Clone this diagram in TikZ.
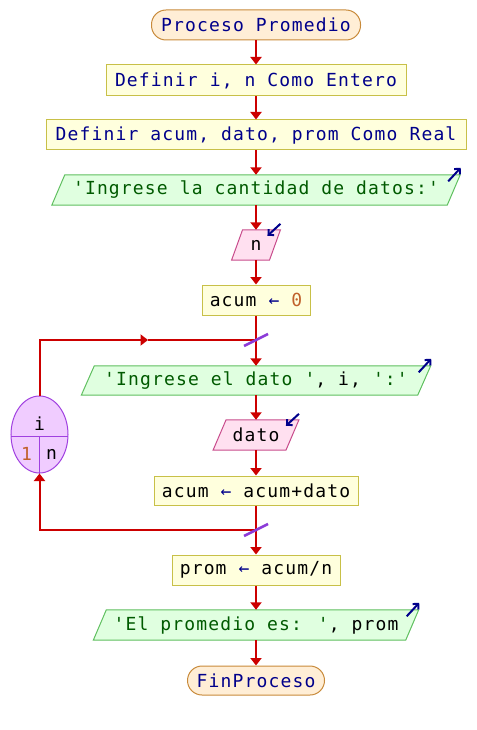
\documentclass[tikz,border=0pt]{standalone}
\usepackage{fontspec}
\newfontfamily\psefont[LetterSpace=6.4,Ligatures=TeXOff]{DejaVu Sans Mono}
\usetikzlibrary{arrows.meta,shapes.geometric,backgrounds}

\definecolor{navy}{HTML}{00008B}
\definecolor{outgreen}{HTML}{005A00}
\definecolor{numorange}{HTML}{C0602A}
\definecolor{flowred}{HTML}{CC0000}
\definecolor{termfill}{HTML}{FFEED6}
\definecolor{termdraw}{HTML}{C88A3A}
\definecolor{procfill}{HTML}{FFFFDD}
\definecolor{procdraw}{HTML}{C8C048}
\definecolor{outfill}{HTML}{E0FFE0}
\definecolor{outdraw}{HTML}{60C060}
\definecolor{infill}{HTML}{FFE0F0}
\definecolor{indraw}{HTML}{C84C8C}
\definecolor{loopfill}{HTML}{F0CCFF}
\definecolor{loopdraw}{HTML}{A040E0}
\definecolor{loopmarkc}{HTML}{8C3CD8}

% parallelogram drawn behind a plain node: name, slant offset, colours
\newcommand\ioshape[3]{%
  \begin{scope}[on background layer]
    \filldraw[#3,line width=1pt]
      ([xshift=#2]#1.north west) -- ([xshift=#2]#1.north east) --
      ([xshift=-#2]#1.south east) -- ([xshift=-#2]#1.south west) -- cycle;
  \end{scope}}

\begin{document}
\begin{tikzpicture}[x=1pt,y=-1pt,
  font=\psefont\fontsize{18}{20}\selectfont,
  terminal/.style={rectangle, rounded corners=14.5pt, draw=termdraw, fill=termfill,
    line width=1pt, text=navy, inner sep=0pt, minimum height=30pt},
  procbox/.style={rectangle, draw=procdraw, fill=procfill, line width=1pt,
    inner sep=0pt, minimum height=30pt},
  iobox/.style={rectangle, inner sep=0pt, minimum height=30pt},
  flowline/.style={draw=flowred, line width=2pt},
  flow/.style={flowline, -{Triangle[width=11pt,length=7.5pt]}},
  loopmark/.style={draw=loopmarkc, line width=2.5pt},
  loopline/.style={draw=loopdraw, line width=1pt},
  ioicon/.style={draw=navy, line width=2pt, -{Straight Barb[length=4pt,width=8pt]}}]

\useasboundingbox (0,0) rectangle (476,730);

% main column of steps
\node[terminal, minimum width=209pt] (start) at (256,25) {Proceso Promedio};
\node[procbox, text=navy, minimum width=300pt, minimum height=31pt] (d1) at (256,80.5) {Definir i, n Como Entero};
\node[procbox, text=navy, minimum width=420pt] (d2) at (256,135) {Definir acum, dato, prom Como Real};
\node[iobox, text=outgreen, minimum width=395pt] (o1) at (256,190) {'Ingrese la cantidad de datos:'};
\node[iobox, minimum width=37.5pt] (i1) at (256,245) {n};
\node[procbox, minimum width=108pt] (a0) at (256,300) {acum \textcolor{navy}{←} \textcolor{numorange}{0}};
\coordinate (j1) at (256,340);
\node[iobox, minimum width=336pt, minimum height=29pt] (o2) at (256,380.5) {\textcolor{outgreen}{'Ingrese el dato '}, i, \textcolor{outgreen}{':'}};
\node[iobox, minimum width=72.5pt] (i2) at (256,435) {dato};
\node[procbox, minimum width=204pt, minimum height=29pt] (a1) at (256,490.5) {acum \textcolor{navy}{←} acum+dato};
\coordinate (j2) at (256,530);
\node[procbox, minimum width=168pt] (pr) at (256,570) {prom \textcolor{navy}{←} acum/n};
\node[iobox, minimum width=312pt] (o3) at (256,625) {\textcolor{outgreen}{'El promedio es: '}, prom};
\node[terminal, minimum width=137pt, minimum height=29pt] (fin) at (256,680.5) {FinProceso};

% parallelogram outlines for input/output steps
\ioshape{o1}{6.5}{fill=outfill,draw=outdraw}
\ioshape{o2}{6.5}{fill=outfill,draw=outdraw}
\ioshape{o3}{6.5}{fill=outfill,draw=outdraw}
\ioshape{i1}{5.5}{fill=infill,draw=indraw}
\ioshape{i2}{6.5}{fill=infill,draw=indraw}

% loop counter
\node[ellipse, draw=loopdraw, fill=loopfill, line width=1pt, inner sep=0pt,
  minimum width=57pt, minimum height=77pt] (lp) at (39.5,434.5) {};
\draw[loopline] (11.3,436) -- (67.7,436);
\draw[loopline] (39.5,436) -- (lp.south);
\node (lvar) at (39.5,424) {i};
\node[text=numorange] (lfrom) at (26.5,454) {1};
\node (lto) at (51.5,454) {n};

% connectors
\draw[flow] (start.south) -- (d1.north);
\draw[flow] (d1.south) -- (d2.north);
\draw[flow] (d2.south) -- (o1.north);
\draw[flow] (o1.south) -- (i1.north);
\draw[flow] (i1.south) -- (a0.north);
\draw[flow] (a0.south) -- (o2.north);
\draw[flow] (o2.south) -- (i2.north);
\draw[flow] (i2.south) -- (a1.north);
\draw[flow] (a1.south) -- (pr.north);
\draw[flow] (pr.south) -- (o3.north);
\draw[flow] (o3.south) -- (fin.north);

% loop back edges
\coordinate (lmid) at (148,340);
\draw[flow] (lp.north) |- (lmid);
\draw[flowline] (lmid) -- (j1);
\draw[flow] (j2) -| (lp.south);

% loop junction marks
\draw[loopmark] ([shift={(-12,6)}]j1) -- ([shift={(12,-6)}]j1);
\draw[loopmark] ([shift={(-12,6)}]j2) -- ([shift={(12,-6)}]j2);

% output / input icons
\draw[ioicon] ([shift={(-5.5,6.5)}]o1.north east) -- ([shift={(7,-7)}]o1.north east);
\draw[ioicon] ([shift={(-5.5,6.5)}]o2.north east) -- ([shift={(7,-7)}]o2.north east);
\draw[ioicon] ([shift={(-5.5,6.5)}]o3.north east) -- ([shift={(7,-7)}]o3.north east);
\draw[ioicon] ([shift={(5.5,-6)}]i1.north east) -- ([shift={(-7.5,6)}]i1.north east);
\draw[ioicon] ([shift={(6.5,-6)}]i2.north east) -- ([shift={(-6.5,6)}]i2.north east);

\end{tikzpicture}
\end{document}
